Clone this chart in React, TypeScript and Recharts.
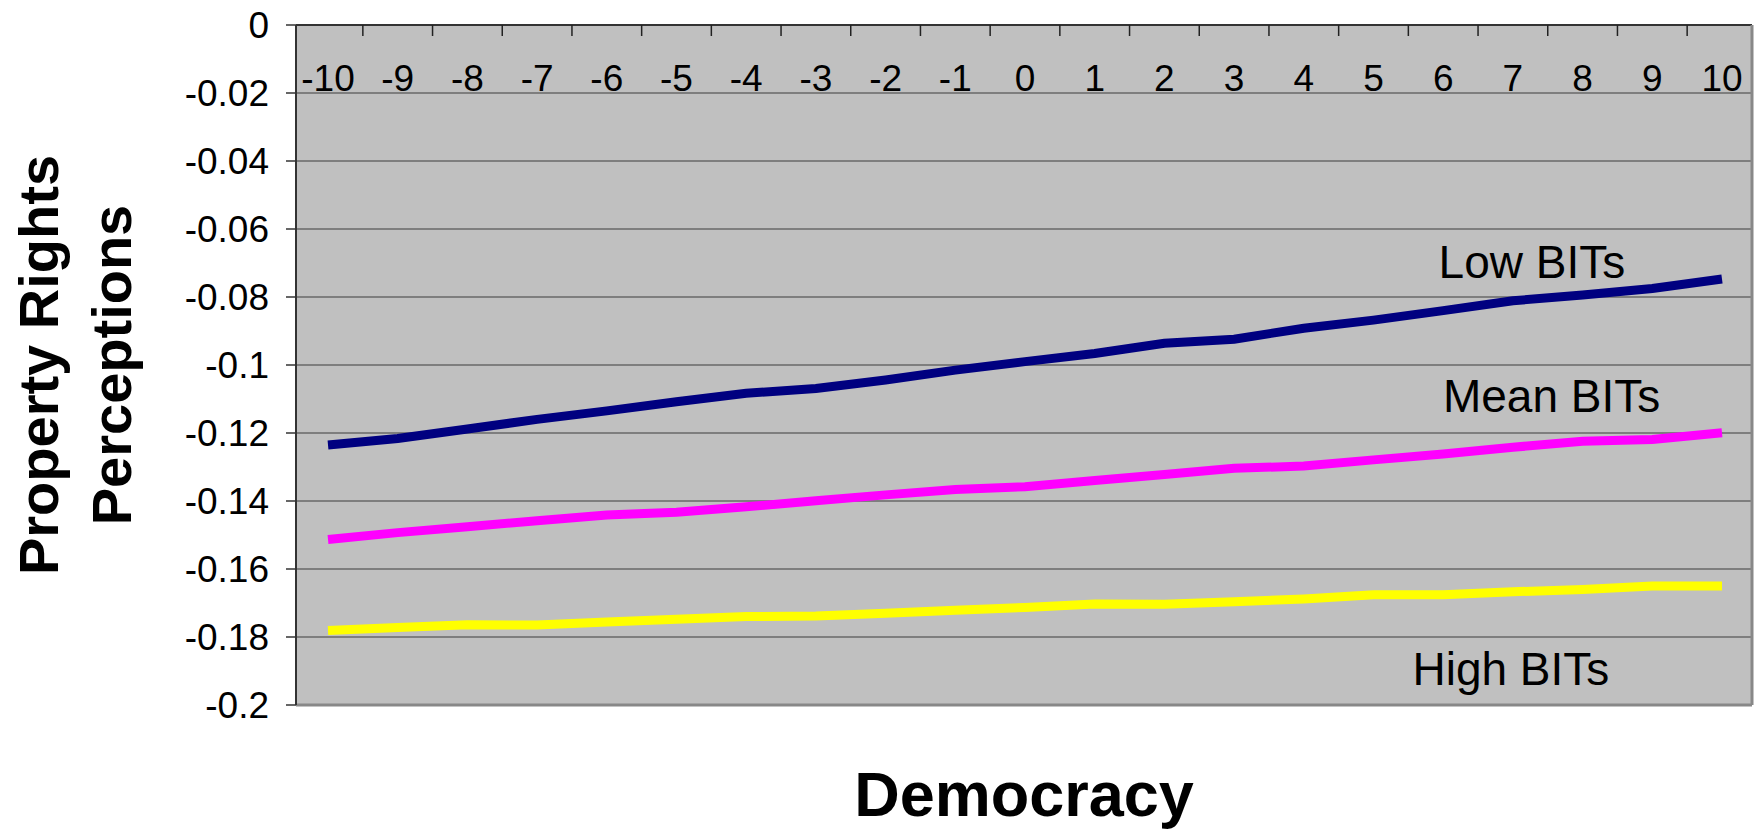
import React from "react";
import { LineChart, Line, XAxis, YAxis, CartesianGrid, ReferenceDot, Label } from "recharts";

// democracy score categories (x axis)
const democracy = ["-10", "-9", "-8", "-7", "-6", "-5", "-4", "-3", "-2", "-1", "0", "1", "2", "3", "4", "5", "6", "7", "8", "9", "10"];

// predicted property rights perceptions
const lowBits = [-0.1235, -0.1216, -0.1188, -0.116, -0.1135, -0.1108, -0.1083, -0.1069, -0.1044, -0.1015, -0.099, -0.0966, -0.0936, -0.0924, -0.0892, -0.0868, -0.084, -0.0811, -0.0794, -0.0775, -0.0747];
const meanBits = [-0.1513, -0.1493, -0.1476, -0.1458, -0.1441, -0.1433, -0.1417, -0.1399, -0.1382, -0.1366, -0.1358, -0.134, -0.1322, -0.1304, -0.1297, -0.1279, -0.1262, -0.1242, -0.1224, -0.1219, -0.1199];
const highBits = [-0.1781, -0.1772, -0.1764, -0.1765, -0.1756, -0.1748, -0.174, -0.1738, -0.173, -0.1721, -0.1713, -0.1703, -0.1704, -0.1696, -0.1688, -0.1676, -0.1676, -0.1667, -0.166, -0.165, -0.165];

const yTicks = [0, -0.02, -0.04, -0.06, -0.08, -0.1, -0.12, -0.14, -0.16, -0.18, -0.2];

const data = democracy.map((d, i) => ({ democracy: d, low: lowBits[i], mean: meanBits[i], high: highBits[i] }));

const FONT = "'Liberation Sans', Arial, sans-serif";
const WIDTH = 1763;
const HEIGHT = 829;
const PLOT_LEFT = 296;
const PLOT_RIGHT = 1752;
const PLOT_TOP = 25;
const PLOT_BOTTOM = 705;
const Y_AXIS_W = 200;
const PAD_L = 32;
const PAD_R = 30;
const STEP = (PLOT_RIGHT - PLOT_LEFT - PAD_L - PAD_R) / (democracy.length - 1);

function XTick(props: any) {
  const { x, payload, index } = props;
  return (
    <g>
      {index > 0 && (
        <line x1={x - STEP / 2} x2={x - STEP / 2} y1={PLOT_TOP} y2={PLOT_TOP + 11} stroke="#222" strokeWidth={1.5} />
      )}
      <text x={x} y={PLOT_TOP + 66} textAnchor="middle" fontSize={37} fontFamily={FONT} fill="#000">
        {payload.value}
      </text>
    </g>
  );
}

function YTitle(props: any) {
  const vb = props.viewBox || {};
  const cy = vb.y + vb.height / 2;
  const style = { fontSize: 56, fontWeight: 700, fontFamily: FONT, fill: "#000" };
  return (
    <g>
      <text x={38} y={cy} transform={`rotate(-90, 38, ${cy})`} textAnchor="middle" dominantBaseline="central" style={style}>
        Property Rights
      </text>
      <text x={111} y={cy} transform={`rotate(-90, 111, ${cy})`} textAnchor="middle" dominantBaseline="central" style={style}>
        Perceptions
      </text>
    </g>
  );
}

function XTitle(props: any) {
  const vb = props.viewBox || {};
  return (
    <text x={vb.x + vb.width / 2} y={PLOT_BOTTOM + 89} textAnchor="middle" dominantBaseline="central"
      style={{ fontSize: 63, fontWeight: 700, fontFamily: FONT, fill: "#000" }}>
      Democracy
    </text>
  );
}

const seriesLabel = (text: string, dx: number) => (props: any) => {
  const vb = props.viewBox || {};
  return (
    <text x={vb.x + dx} y={vb.y} textAnchor="middle" dominantBaseline="central"
      style={{ fontSize: 46, fontFamily: FONT, fill: "#000" }}>
      {text}
    </text>
  );
};

const fmt = (v: number) => {
  const n = Number(v.toFixed(2));
  return n === 0 ? "0" : String(n);
};

export default function App() {
  return (
    <div style={{ position: "absolute", left: 0, top: 0, width: WIDTH, height: HEIGHT, background: "#fff" }}>
      <LineChart
        width={WIDTH}
        height={HEIGHT}
        data={data}
        margin={{ top: PLOT_TOP - 1, left: PLOT_LEFT - Y_AXIS_W, right: WIDTH - PLOT_RIGHT - 1, bottom: HEIGHT - PLOT_BOTTOM - 1 }}
      >
        <CartesianGrid vertical={false} fill="#C0C0C0" stroke="#3c3c3c" strokeWidth={1.2} />
        <XAxis
          dataKey="democracy"
          orientation="top"
          height={1}
          interval={0}
          padding={{ left: PAD_L, right: PAD_R }}
          tickLine={false}
          axisLine={{ stroke: "#333", strokeWidth: 2 }}
          tick={<XTick />}
        />
        <XAxis
          xAxisId="b"
          dataKey="democracy"
          orientation="bottom"
          height={1}
          padding={{ left: PAD_L, right: PAD_R }}
          tick={false}
          tickLine={false}
          axisLine={{ stroke: "#888", strokeWidth: 3 }}
        >
          <Label content={XTitle} />
        </XAxis>
        <YAxis
          width={Y_AXIS_W}
          domain={[-0.2, 0]}
          ticks={yTicks}
          interval={0}
          tickFormatter={fmt}
          tickSize={10}
          tickMargin={17}
          tickLine={{ stroke: "#333", strokeWidth: 1.5 }}
          axisLine={{ stroke: "#333", strokeWidth: 2 }}
          tick={{ fontSize: 37, fill: "#000", fontFamily: FONT }}
        >
          <Label content={YTitle} />
        </YAxis>
        <YAxis
          yAxisId="r"
          orientation="right"
          width={1}
          domain={[-0.2, 0]}
          tick={false}
          tickLine={false}
          axisLine={{ stroke: "#888", strokeWidth: 3 }}
        />
        <Line type="linear" dataKey="low" stroke="#000080" strokeWidth={9} dot={false} activeDot={false} isAnimationActive={false} />
        <Line type="linear" dataKey="mean" stroke="#FF00FF" strokeWidth={9} dot={false} activeDot={false} isAnimationActive={false} />
        <Line type="linear" dataKey="high" stroke="#FFFF00" strokeWidth={9} dot={false} activeDot={false} isAnimationActive={false} />
        <ReferenceDot x="7" y={-0.0697} r={0} fill="none" stroke="none" label={{ content: seriesLabel("Low BITs", 19) }} />
        <ReferenceDot x="8" y={-0.1091} r={0} fill="none" stroke="none" label={{ content: seriesLabel("Mean BITs", -31) }} />
        <ReferenceDot x="7" y={-0.1894} r={0} fill="none" stroke="none" label={{ content: seriesLabel("High BITs", -2) }} />
      </LineChart>
    </div>
  );
}
